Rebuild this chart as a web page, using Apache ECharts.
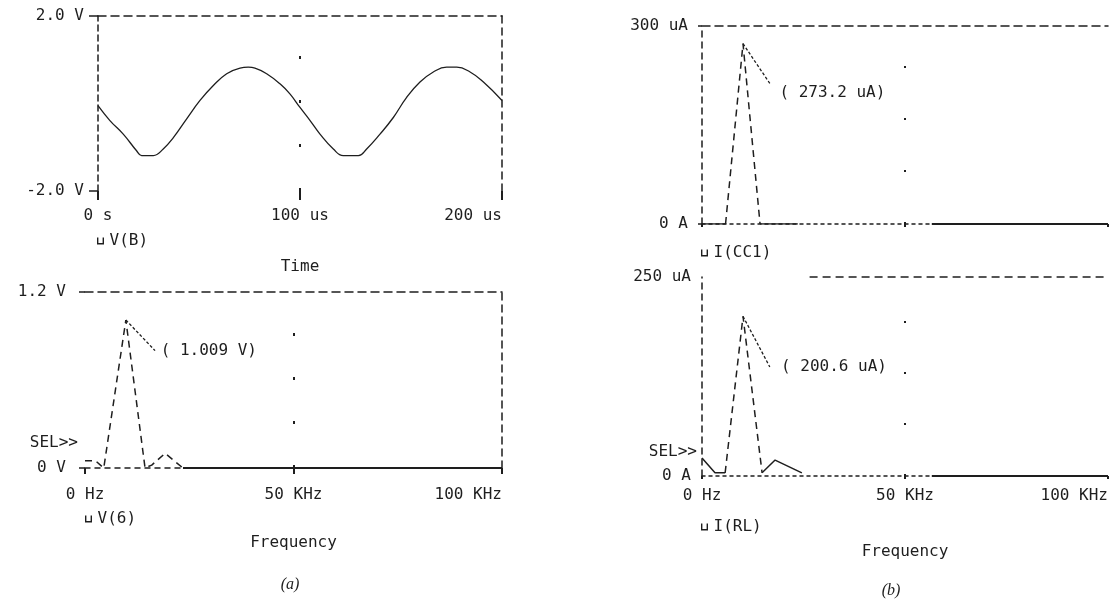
<!DOCTYPE html>
<html>
<head>
<meta charset="utf-8">
<style>
  html, body { margin: 0; padding: 0; background: #fff; }
  #chart { width: 1114px; height: 601px; }
</style>
<script src="https://cdn.jsdelivr.net/npm/echarts@6/dist/echarts.min.js"></script>
</head>
<body>
<div id="chart"></div>
<script>
// (a) top: transient V(B), time in us, volts
var timeUs = [0, 5.9, 12.5, 19.1, 21.6, 27.4, 32.3, 37.3, 43.9, 50.5, 57.1, 63.7, 70.3, 74.4, 77.7, 83.5, 90.1, 95, 100,
  105, 109.9, 116.5, 121.4, 128.9, 133, 139.6, 146.2, 152.8, 159.4, 166, 172.6, 177.6, 184.2, 190.8, 200];
var voltB = [-0.05, -0.39, -0.70, -1.08, -1.19, -1.19, -1.04, -0.78, -0.35, 0.07, 0.41, 0.68, 0.81, 0.83, 0.81, 0.68, 0.45, 0.22, -0.09,
  -0.39, -0.70, -1.04, -1.19, -1.19, -1.04, -0.70, -0.32, 0.14, 0.49, 0.72, 0.83, 0.83, 0.72, 0.49, 0.07];

// (a) bottom: spectrum of V(6), kHz / volts
var freqV6 = [0, 2.5, 4.5, 9.8, 14.4, 16, 19.2, 23.5];
var magV6 = [0.05, 0.05, 0, 1.009, 0, 0.02, 0.1, 0];
var tailFreqV6 = [23.5, 100];
var tailMagV6 = [0, 0];

// (b) top: spectrum of I(CC1), kHz / uA
var freqCC1 = [0, 5.8, 10.1, 14.3, 23.6];
var ampCC1 = [0, 0, 273.2, 0, 0];
var tailFreqCC1 = [56.6, 100];
var tailAmpCC1 = [0, 0];

// (b) bottom: spectrum of I(RL), kHz / uA
var freqRL = [0, 3.2, 5.2, 5.7, 10.1, 14.8, 18, 24.6];
var ampRL = [22.6, 4, 4, 4, 200.6, 4, 20, 4];
var tailFreqRL = [56.6, 100];
var tailAmpRL = [0, 0];

// tick labels
var timeTicks = [0, 100, 200];
var timeLabels = ["0 s", "100 us", "200 us"];
var freqTicks = [0, 50, 100];
var freqLabels = ["0 Hz", "50 KHz", "100 KHz"];
var vBTicks = [-2, 2];
var vBLabels = ["-2.0 V", "2.0 V"];
var v6Ticks = [0, 1.2];
var v6Labels = ["0 V", "1.2 V"];
var cc1Ticks = [0, 300];
var cc1Labels = ["0 A", "300 uA"];
var rlTicks = [0, 250];
var rlLabels = ["0 A", "250 uA"];

(function () {
  "use strict";

  var INK = "#1e1e1e";
  var MONO = "'DejaVu Sans Mono', monospace";
  var FONT = { fontFamily: MONO, fontSize: 16, color: INK };
  var LEGEND_ICON = "path://M0,0V10H10V0H8V8H2V0Z";

  function pairs(xs, ys, from, to) {
    var out = [];
    var a = from == null ? 0 : from;
    var b = to == null ? xs.length - 1 : to;
    for (var i = a; i <= b; i++) out.push([xs[i], ys[i]]);
    return out;
  }

  function fmt(ticks, labels) {
    return function (v) {
      for (var i = 0; i < ticks.length; i++) {
        if (Math.abs(ticks[i] - v) < 1e-9) return labels[i];
      }
      return "";
    };
  }

  function dashed(type, width) {
    return { show: true, onZero: false, lineStyle: { color: INK, width: width || 1.5, type: type } };
  }

  var hidden = { show: false };
  var noLine = { show: false, onZero: false };

  function bottomX(gi, ticks, labels, o) {
    return {
      type: "value", gridIndex: gi, position: "bottom",
      min: ticks[0], max: ticks[ticks.length - 1],
      axisLine: o.line || noLine,
      axisTick: o.tick ? { show: true, length: o.tick, lineStyle: { color: INK, width: 2 }, customValues: ticks } : hidden,
      axisLabel: o.labels === false ? hidden : {
        show: true, margin: o.margin, customValues: ticks, formatter: fmt(ticks, labels),
        alignMaxLabel: "right", fontFamily: MONO, fontSize: 16, color: INK
      },
      splitLine: hidden,
      name: o.name || "", nameLocation: "middle", nameGap: o.nameGap || 0,
      nameTextStyle: FONT
    };
  }

  function leftY(gi, ticks, labels, o) {
    return {
      type: "value", gridIndex: gi, position: "left",
      min: ticks[0], max: ticks[ticks.length - 1],
      axisLine: o.line || noLine,
      axisTick: o.tick ? { show: true, length: o.tick, lineStyle: { color: INK, width: 1.5 }, customValues: ticks } : hidden,
      axisLabel: { show: true, margin: o.margin, customValues: ticks, formatter: fmt(ticks, labels),
        fontFamily: MONO, fontSize: 16, color: INK },
      splitLine: hidden
    };
  }

  function frameAxis(gi, pos, line) {
    return {
      type: "value", gridIndex: gi, position: pos, min: 0, max: 1,
      axisLine: line || noLine, axisTick: hidden, axisLabel: hidden, splitLine: hidden
    };
  }

  function gridLine(axisValue, dash) {
    return {
      xAxis: axisValue,
      lineStyle: { color: INK, width: 2, type: dash },
      label: { show: false }
    };
  }

  function leader(from, to) {
    return [
      { coord: from, lineStyle: { color: INK, width: 1.3, type: [3, 2] }, label: { show: false } },
      { coord: to }
    ];
  }

  function noteLabel(at, text) {
    return {
      symbol: "circle", symbolSize: 1, silent: true,
      itemStyle: { color: "rgba(0,0,0,0)" },
      label: { show: true, position: "right", distance: 3, formatter: text, fontFamily: MONO, fontSize: 16, color: INK },
      data: [{ coord: at }]
    };
  }

  function line(name, xi, data, style, extra) {
    var s = {
      name: name, type: "line", xAxisIndex: xi, yAxisIndex: xi,
      data: data, symbol: "none", silent: true, animation: false,
      lineStyle: style
    };
    if (extra) for (var k in extra) s[k] = extra[k];
    return s;
  }

  var SOLID = { color: INK, width: 1.5, type: "solid" };
  var LEG = { color: INK, width: 1.5, type: [7, 5] };
  var TAIL = { color: INK, width: 2, type: "solid" };

  var peakV6 = Math.max.apply(null, magV6);
  var peakCC1 = Math.max.apply(null, ampCC1);
  var peakRL = Math.max.apply(null, ampRL);

  var chart = echarts.init(document.getElementById("chart"), null, { renderer: "canvas" });

  chart.setOption({
    backgroundColor: "#fff",
    animation: false,
    grid: [
      { left: 98, top: 16, width: 404, height: 175 },
      { left: 85, top: 292, width: 417, height: 176 },
      { left: 702, top: 26, width: 406, height: 198 },
      { left: 702, top: 277, width: 406, height: 199 }
    ],
    xAxis: [
      bottomX(0, timeTicks, timeLabels, { tick: 9, margin: 17, name: "Time", nameGap: 68 }),
      frameAxis(0, "top", dashed([8, 5])),
      bottomX(1, freqTicks, freqLabels, { line: dashed([5, 5]), tick: 6, margin: 19, name: "Frequency", nameGap: 67 }),
      frameAxis(1, "top", dashed([8, 5])),
      bottomX(2, freqTicks, freqLabels, { line: dashed([3, 4]), tick: 3, labels: false }),
      frameAxis(2, "top", dashed([8, 5])),
      bottomX(3, freqTicks, freqLabels, { line: dashed([3, 4]), tick: 3, margin: 12, name: "Frequency", nameGap: 68 }),
      frameAxis(3, "top", null)
    ],
    yAxis: [
      leftY(0, vBTicks, vBLabels, { line: dashed([6, 4]), tick: 9, margin: 14 }),
      frameAxis(0, "right", dashed([7, 5])),
      leftY(1, v6Ticks, v6Labels, { tick: 6, margin: 19 }),
      frameAxis(1, "right", dashed([7, 5])),
      leftY(2, cc1Ticks, cc1Labels, { line: dashed([6, 5]), tick: 4, margin: 14 }),
      frameAxis(2, "right", null),
      leftY(3, rlTicks, rlLabels, { line: dashed([6, 5]), margin: 11 }),
      frameAxis(3, "right", null)
    ],
    legend: [
      { data: ["V(B)"], left: 97, top: 233 },
      { data: ["V(6)"], left: 85, top: 511 },
      { data: ["I(CC1)"], left: 701, top: 245 },
      { data: ["I(RL)"], left: 701, top: 519 }
    ].map(function (l) {
      l.padding = 0;
      l.icon = LEGEND_ICON;
      l.itemWidth = 8;
      l.itemHeight = 7;
      l.selectedMode = false;
      l.itemStyle = { color: INK, borderWidth: 0 };
      l.textStyle = FONT;
      return l;
    }),
    series: [
      // (a) top
      line("V(B)", 0, pairs(timeUs, voltB), { color: INK, width: 1.3 }, {
        smooth: 0.45,
        markLine: { symbol: ["none", "none"], silent: true, data: [gridLine(100, [3, 41])] }
      }),

      // (a) bottom
      line("V(6)", 2, pairs(freqV6, magV6), LEG, {
        markLine: {
          symbol: ["none", "none"], silent: true,
          data: [gridLine(50, [3, 41]), leader([freqV6[3], peakV6], [16.8, 0.8])]
        },
        markPoint: noteLabel([17.3, 0.8], "( " + peakV6.toFixed(3) + " V)")
      }),
      line("V(6)", 2, pairs(tailFreqV6, tailMagV6), TAIL),

      // (b) top
      line("I(CC1)", 4, pairs(freqCC1, ampCC1, 1, 3), LEG, {
        markLine: {
          symbol: ["none", "none"], silent: true,
          data: [gridLine(50, [2, 50]), leader([freqCC1[2], peakCC1], [16.7, 213])]
        },
        markPoint: noteLabel([18.2, 199], "( " + peakCC1.toFixed(1) + " uA)")
      }),
      line("I(CC1)", 4, pairs(freqCC1, ampCC1, 0, 1), SOLID),
      line("I(CC1)", 4, pairs(freqCC1, ampCC1, 3, 4), SOLID),
      line("I(CC1)", 4, pairs(tailFreqCC1, tailAmpCC1), TAIL),

      // (b) bottom
      line("I(RL)", 6, pairs(freqRL, ampRL, 3, 5), LEG, {
        markLine: {
          symbol: ["none", "none"], silent: true,
          data: [gridLine(50, [2, 49]), leader([freqRL[4], peakRL], [16.7, 137])]
        },
        markPoint: noteLabel([18.6, 137], "( " + peakRL.toFixed(1) + " uA)")
      }),
      line("I(RL)", 6, pairs(freqRL, ampRL, 0, 3), SOLID),
      line("I(RL)", 6, pairs(freqRL, ampRL, 5, 7), SOLID),
      line("I(RL)", 6, pairs(tailFreqRL, tailAmpRL), TAIL, {
        // dashed top frame only starts right of the trace
        markLine: {
          symbol: ["none", "none"], silent: true,
          data: [[
            { coord: [26.5, rlTicks[1]], lineStyle: { color: INK, width: 1.5, type: [8, 5] }, label: { show: false } },
            { coord: [100, rlTicks[1]] }
          ]]
        }
      })
    ],
    graphic: [
      { type: "text", x: 78, y: 443, style: { text: "SEL>>", font: "16px 'DejaVu Sans Mono'", fill: INK, align: "right", textAlign: "right", verticalAlign: "middle", textVerticalAlign: "middle" } },
      { type: "text", x: 697, y: 452, style: { text: "SEL>>", font: "16px 'DejaVu Sans Mono'", fill: INK, align: "right", textAlign: "right", verticalAlign: "middle", textVerticalAlign: "middle" } },
      { type: "text", x: 290, y: 585, style: { text: "(a)", font: "italic 16px 'Liberation Serif'", fill: INK, align: "center", textAlign: "center", verticalAlign: "middle", textVerticalAlign: "middle" } },
      { type: "text", x: 891, y: 591, style: { text: "(b)", font: "italic 16px 'Liberation Serif'", fill: INK, align: "center", textAlign: "center", verticalAlign: "middle", textVerticalAlign: "middle" } }
    ]
  });

  window.addEventListener("resize", function () { chart.resize(); });
})();
</script>
</body>
</html>
